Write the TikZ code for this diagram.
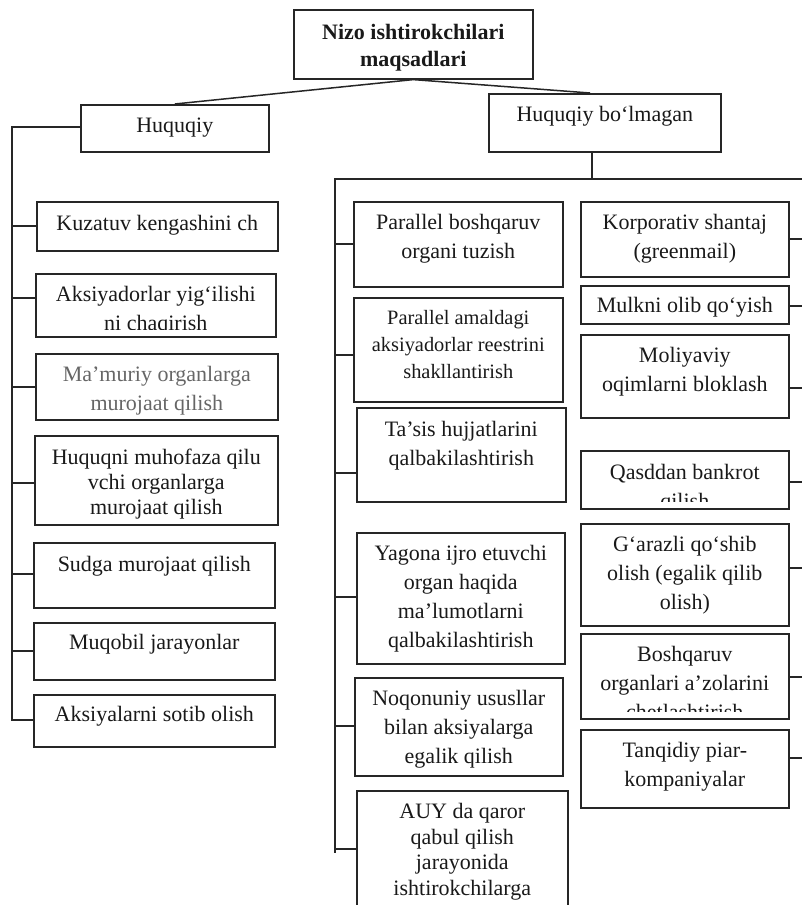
\documentclass[tikz,border=0pt]{standalone}
\usepackage{fontspec}
\setmainfont{Liberation Serif}
\usetikzlibrary{positioning}

\begin{document}
\begin{tikzpicture}
[x=1pt, y=-1pt,
 box/.style={draw=black!85, rectangle, line width=1.6pt, anchor=north west, inner sep=0pt},
 sz/.style 2 args={minimum width=#1pt, minimum height=#2pt},
 txt/.style={align=center, inner sep=0pt, text=black!90, font=\fontsize{22}{29}\selectfont},
 conn/.style={draw=black!85, line width=2pt},
 slant/.style={draw=black!85, line width=1.5pt}]
\useasboundingbox (0,0) rectangle (802,905);
\clip (0,0) rectangle (802,905);

% top
\node (nizo) at (293,9) [box, sz={239}{69}] {};
\node (nizo-t) [txt, below=15.5pt of nizo.north, font=\fontsize{22}{26.7}\selectfont\bfseries]
  {Nizo ishtirokchilari\\maqsadlari};

\node (huquqiy) at (80,104) [box, sz={188}{47}] {};
\node (huquqiy-t) [txt, below=13.5pt of huquqiy.north] {Huquqiy};

\node (nohuquqiy) at (488,93) [box, sz={232}{58}] {};
\node (nohuquqiy-t) [txt, below=13.5pt of nohuquqiy.north] {Huquqiy bo‘lmagan};

% left group
\node (kuzatuv) at (36,201) [box, sz={241}{49}] {};
\node (kuzatuv-t) [txt, below=14pt of kuzatuv.north] {Kuzatuv kengashini ch};

\node (yigilish) at (35,273) [box, sz={240}{63}] {};
\begin{scope}
\clip (yigilish.north west) rectangle ([yshift=8pt]yigilish.south east);
\node (yigilish-t) [txt, below=13.5pt of yigilish.north] {Aksiyadorlar yig‘ilishi\\ni chaqirish};
\end{scope}

\node (mamuriy) at (35,353) [box, sz={242}{66}] {};
\node (mamuriy-t) [txt, below=13.5pt of mamuriy.north, text=black!60] {Ma’muriy organlarga\\murojaat qilish};

\node (himoya) at (34,435) [box, sz={243}{89}] {};
\node (himoya-t) [txt, below=13.5pt of himoya.north, font=\fontsize{22}{25}\selectfont]
  {Huquqni muhofaza qilu\\vchi organlarga\\murojaat qilish};

\node (sud) at (33,542) [box, sz={241}{65}] {};
\node (sud-t) [txt, below=14pt of sud.north] {Sudga murojaat qilish};

\node (muqobil) at (33,622) [box, sz={241}{57}] {};
\node (muqobil-t) [txt, below=12pt of muqobil.north] {Muqobil jarayonlar};

\node (sotib) at (33,694) [box, sz={241}{52}] {};
\node (sotib-t) [txt, below=12pt of sotib.north] {Aksiyalarni sotib olish};

% middle column
\node (parboshq) at (353,201) [box, sz={209}{85}] {};
\node (parboshq-t) [txt, below=13pt of parboshq.north] {Parallel boshqaruv\\organi tuzish};

\node (parreestr) at (353,297) [box, sz={209}{104}] {};
\node (parreestr-t) [txt, below=13.5pt of parreestr.north, font=\fontsize{20.4}{27}\selectfont]
  {Parallel amaldagi\\aksiyadorlar reestrini\\shakllantirish};

\node (tasis) at (356,407) [box, sz={209}{94}] {};
\node (tasis-t) [txt, below=14.5pt of tasis.north] {Ta’sis hujjatlarini\\qalbakilashtirish};

\node (yagona) at (356,532) [box, sz={208}{131}] {};
\node (yagona-t) [txt, below=13.5pt of yagona.north] {Yagona ijro etuvchi\\organ haqida\\ma’lumotlarni\\qalbakilashtirish};

\node (noqonun) at (354,677) [box, sz={208}{98}] {};
\node (noqonun-t) [txt, below=13.5pt of noqonun.north] {Noqonuniy ususllar\\bilan aksiyalarga\\egalik qilish};

\node (auy) at (356,790) [box, sz={211}{140}] {};
\node (auy-t) [txt, below=13.5pt of auy.north, font=\fontsize{22}{25.5}\selectfont]
  {AUY da qaror\\qabul qilish\\jarayonida\\ishtirokchilarga};

% right column
\node (shantaj) at (580,201) [box, sz={208}{75}] {};
\node (shantaj-t) [txt, below=13pt of shantaj.north] {Korporativ shantaj\\(greenmail)};

\node (mulk) at (580,285) [box, sz={208}{38}] {};
\node (mulk-t) [txt, below=12.5pt of mulk.north] {Mulkni olib qo‘yish};

\node (moliya) at (580,334) [box, sz={208}{83}] {};
\node (moliya-t) [txt, below=13.5pt of moliya.north] {Moliyaviy\\oqimlarni bloklash};

\node (bankrot) at (580,450) [box, sz={208}{58}] {};
\begin{scope}
\clip (bankrot.north west) rectangle ([yshift=8pt]bankrot.south east);
\node (bankrot-t) [txt, below=14.5pt of bankrot.north] {Qasddan bankrot\\qilish};
\end{scope}

\node (garazli) at (580,523) [box, sz={208}{102}] {};
\node (garazli-t) [txt, below=13.5pt of garazli.north] {G‘arazli qo‘shib\\olish (egalik qilib\\olish)};

\node (chetlash) at (580,633) [box, sz={208}{85}] {};
\begin{scope}
\clip (chetlash.north west) rectangle ([yshift=8pt]chetlash.south east);
\node (chetlash-t) [txt, below=13.5pt of chetlash.north] {Boshqaruv\\organlari a’zolarini\\chetlashtirish};
\end{scope}

\node (piar) at (580,729) [box, sz={208}{78}] {};
\node (piar-t) [txt, below=13.5pt of piar.north] {Tanqidiy piar-\\kompaniyalar};

% top links
\draw[slant] (nizo.south) -- (huquqiy.north);
\draw[slant] (nizo.south) -- (nohuquqiy.north -| 590,0);

% left spine
\draw[conn] (huquqiy.west |- 0,127) -- (12,127) -- (12,720) -- (sotib.west |- 0,720);
\draw[conn] (kuzatuv.west |- 0,226) -- (12,226);
\draw[conn] (yigilish.west |- 0,298) -- (12,298);
\draw[conn] (mamuriy.west |- 0,387) -- (12,387);
\draw[conn] (himoya.west |- 0,483) -- (12,483);
\draw[conn] (sud.west |- 0,574) -- (12,574);
\draw[conn] (muqobil.west |- 0,651) -- (12,651);

% right spine
\draw[conn] (nohuquqiy.south -| 592,0) -- (592,179);
\draw[conn] (802,179) -- (335,179) -- (335,853);
\draw[conn] (parboshq.west |- 0,244) -- (335,244);
\draw[conn] (parreestr.west |- 0,355) -- (335,355);
\draw[conn] (tasis.west |- 0,473) -- (335,473);
\draw[conn] (yagona.west |- 0,597) -- (335,597);
\draw[conn] (noqonun.west |- 0,726) -- (335,726);
\draw[conn] (auy.west |- 0,849) -- (335,849);

\draw[conn] (shantaj.east |- 0,239) -- (802,239);
\draw[conn] (mulk.east |- 0,306) -- (802,306);
\draw[conn] (moliya.east |- 0,388) -- (802,388);
\draw[conn] (bankrot.east |- 0,482) -- (802,482);
\draw[conn] (garazli.east |- 0,568) -- (802,568);
\draw[conn] (chetlash.east |- 0,677) -- (802,677);
\draw[conn] (piar.east |- 0,758) -- (802,758);
\end{tikzpicture}
\end{document}
